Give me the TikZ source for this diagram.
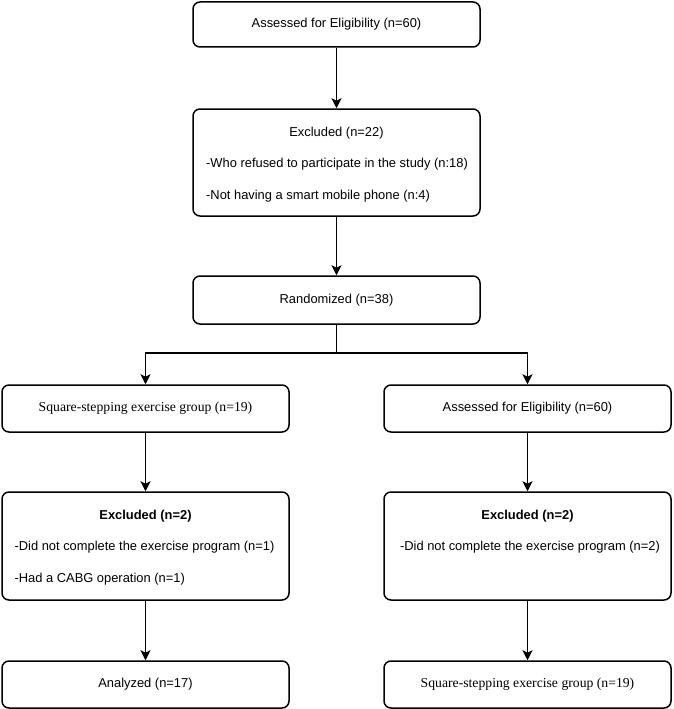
\documentclass[tikz,border=0pt]{standalone}
\usepackage{fontspec}
\setmainfont{Liberation Sans}
\newfontfamily\serifx{Liberation Serif}
\usetikzlibrary{arrows.meta}
\begin{document}
\begin{tikzpicture}[x=1pt,y=-1pt,
  box/.style={draw, line width=1.5pt, rounded corners=7pt, minimum width=287pt, minimum height=#1, inner sep=0pt},
  box/.default=47pt,
  lbl/.style={font=\fontsize{12.9}{15}\selectfont, inner sep=0pt},
  lst/.style={font=\fontsize{12.9}{32}\selectfont, inner sep=0pt, align=left},
  sr/.style={font=\serifx\fontsize{13.7}{16}\selectfont, inner sep=0pt},
  tip/.style={Stealth[length=10pt,width=10pt,inset=2.5pt]},
  arr/.style={line width=1.5pt, -{Stealth[length=10pt,width=10pt,inset=2.5pt]}},
  arr2/.style={line width=1.5pt, {Stealth[length=10pt,width=10pt,inset=2.5pt]}-{Stealth[length=10pt,width=10pt,inset=2.5pt]}},
  ln/.style={line width=1.5pt}]
\useasboundingbox (0,0) rectangle (673,709);

\node[box=45pt, lbl] (elig) at (336.5,24.5) {Assessed for Eligibility (n=60)};

\node[box=107pt] (exc) at (336.5,162.5) {};
\node[lbl] (exch) at (336.5,133) {Excluded (n=22)};
\node[lst] (excl) at (337,180.5) {-Who refused to participate in the study (n:18)\\-Not having a smart mobile phone (n:4)};

\node[box=48pt, lbl] (rand) at (336.5,300) {Randomized (n=38)};
\coordinate (fork) at (336.5,353);

\node[box=47pt, sr] (ssl) at (145.5,408.5) {Square-stepping exercise group (n=19)};
\node[box=47pt, lbl] (asr) at (527.5,408.5) {Assessed for Eligibility (n=60)};

\node[box=108pt] (exl) at (145.5,546) {};
\node[lbl, font=\fontsize{12.9}{15}\selectfont\bfseries] (exlh) at (145.5,516) {Excluded (n=2)};
\node[lst] (exll) at (144.5,563) {-Did not complete the exercise program (n=1)\\-Had a CABG operation (n=1)};

\node[box=108pt] (exr) at (527.5,546) {};
\node[lbl, font=\fontsize{12.9}{15}\selectfont\bfseries] (exrh) at (527.5,516) {Excluded (n=2)};
\node[lbl] (exrl) at (530,547) {-Did not complete the exercise program (n=2)};

\node[box=47pt, lbl] (anl) at (145.5,684.5) {Analyzed (n=17)};
\node[box=47pt, sr] (ssr) at (527.5,684.5) {Square-stepping exercise group (n=19)};

\draw[arr] (elig.south) -- (exc.north);
\draw[arr] (exc.south) -- (rand.north);
\draw[ln] (rand.south) -- (fork);
\draw[arr2] (ssl.north) |- (fork) -| (asr.north);
\draw[arr] (ssl.south) -- (exl.north);
\draw[arr] (asr.south) -- (exr.north);
\draw[arr] (exl.south) -- (anl.north);
\draw[arr] (exr.south) -- (ssr.north);
\end{tikzpicture}
\end{document}
